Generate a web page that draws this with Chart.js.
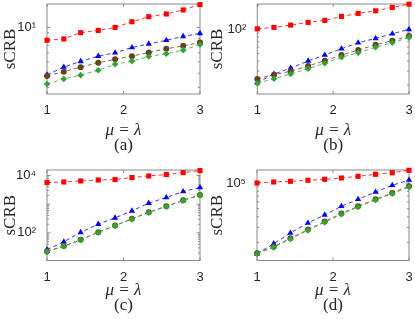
<!DOCTYPE html>
<html>
<head>
<meta charset="utf-8">
<script src="https://cdn.jsdelivr.net/npm/chart.js@4.4.1/dist/chart.umd.min.js"></script>
<style>
html, body { margin: 0; padding: 0; background: #fff; }
#wrap { position: relative; width: 415px; height: 319px; overflow: hidden; }
canvas { position: absolute; }
</style>
</head>
<body>
<div id="wrap">
<canvas id="pa" width="207" height="159" style="left:0px;top:0px"></canvas>
<canvas id="pb" width="208" height="159" style="left:207px;top:0px"></canvas>
<canvas id="pc" width="207" height="160" style="left:0px;top:159px"></canvas>
<canvas id="pd" width="208" height="160" style="left:207px;top:159px"></canvas>
</div>
<script>
const muLambda = [1, 1.22, 1.44, 1.67, 1.89, 2.11, 2.33, 2.56, 2.78, 3];
const xTicks = [1, 2, 3];

// (a)
const redA = [7.73, 7.94, 9.0, 9.42, 10, 11.2, 12.4, 13.1, 14.2, 15.8];
const blueA = [3.86, 4.52, 5.06, 5.62, 6.01, 6.68, 7.19, 7.73, 8.36, 8.87];
const brownA = [3.78, 4.12, 4.5, 4.93, 5.27, 5.62, 6.05, 6.52, 6.91, 7.38];
const greenA = [3.21, 3.56, 3.84, 4.24, 4.77, 5.09, 5.58, 5.9, 6.34, 7.1];
const yTicksA = [10];
// (b)
const redB = [101.7, 105.9, 113.2, 122.3, 129.6, 145.4, 158.5, 170.8, 188.4, 207];
const blueB = [21.5, 27.6, 32.8, 40.2, 47.7, 57.2, 68.0, 77.2, 88.1, 100];
const brownB = [23.9, 27.1, 29.9, 34.8, 40.5, 47.7, 55.1, 64.2, 72.1, 82.4];
const greenB = [21.1, 24.1, 27.6, 32.2, 37.6, 44.7, 51.0, 59.6, 68.0, 79.4];
const yTicksB = [100];
// (c)
const redC = [5662, 5943, 6442, 6982, 7211, 8453, 9616, 10740, 12620, 14790];
const blueC = [25.9, 49.1, 104, 202, 334, 585, 1084, 1710, 2761, 3802];
const brownC = [22.6, 34.8, 57.5, 106, 181, 308, 526, 851, 1372, 2098];
const greenC = [22.1, 34.0, 56.2, 104, 177, 301, 515, 832, 1343, 2053];
const yTicksC = [100, 10000];
// (d)
const redD = [100000, 102750, 104710, 107600, 110540, 114500, 119900, 126600, 132200, 141100];
const blueD = [14720, 19320, 25820, 33810, 42070, 53210, 64270, 78340, 93970, 108400];
const brownD = [14900, 17800, 22400, 28300, 35200, 43700, 53300, 64400, 76300, 91500];
const greenD = [14720, 17500, 21930, 27730, 34500, 42850, 52240, 63100, 74820, 89740];
const yTicksD = [100000];

const sup = "⁰¹²³⁴⁵⁶⁷⁸⁹";

//box + inward ticks like matlab
const frame = {
     id: "frame",
     beforeDatasetsDraw(chart) {
          const { ctx, chartArea: a, scales } = chart;
          const x = scales.x, y = scales.y;
          ctx.save();
          ctx.strokeStyle = "#8a8a8a";
          ctx.lineWidth = 1;
          ctx.strokeRect(a.left, a.top, a.width, a.height);
          ctx.beginPath();
          for (const v of xTicks) {
               const px = x.getPixelForValue(v);
               ctx.moveTo(px, a.bottom); ctx.lineTo(px, a.bottom - 3);
               ctx.moveTo(px, a.top); ctx.lineTo(px, a.top + 3);
          }
          const lo = Math.floor(Math.log10(y.min)), hi = Math.ceil(Math.log10(y.max));
          for (let k = lo; k <= hi; k++) {
               for (let m = 1; m < 10; m++) {
                    const v = m * Math.pow(10, k);
                    if (v < y.min || v > y.max) continue;
                    const py = y.getPixelForValue(v);
                    const len = m === 1 ? 3.5 : 2;
                    ctx.moveTo(a.left, py); ctx.lineTo(a.left + len, py);
                    ctx.moveTo(a.right, py); ctx.lineTo(a.right - len, py);
               }
          }
          ctx.stroke();
          ctx.restore();
     },
};

function makePanel(id, red, blue, brown, green, yMin, yMax, yTicks, caption, g) {
     const line = (data, color, style, r, order) => ({
          data: data.map((v, i) => ({ x: muLambda[i], y: v })),
          borderColor: color,
          backgroundColor: color,
          borderWidth: 0.8,
          borderDash: [4, 3],
          pointStyle: style,
          pointRadius: r,
          pointBorderWidth: 0,
          pointHoverRadius: r,
          fill: false,
          tension: 0,
          clip: false,
          order: order,
     });
     new Chart(id, {
          type: "line",
          data: {
               datasets: [
                    line(red, "#ff0000", "rect", 3.6, 4),
                    line(blue, "#0000ff", "triangle", 3.6, 3),
                    line(brown, "#654321", "circle", 3, 2),
                    line(green, "#33a333", "rectRot", 3.3, 1),
               ],
          },
          options: {
               responsive: false,
               animation: false,
               devicePixelRatio: 1,
               layout: { padding: { left: 0, top: g.top, right: g.right, bottom: 0 } },
               plugins: { legend: { display: false }, tooltip: { enabled: false } },
               scales: {
                    x: {
                         type: "linear",
                         min: 1,
                         max: 3,
                         weight: 0,
                         grid: { display: false },
                         border: { display: false },
                         afterBuildTicks: (s) => { s.ticks = xTicks.map((v) => ({ value: v })); },
                         ticks: { padding: 1, color: "#262626", font: { family: "Liberation Sans", size: 13 } },
                         title: {
                              display: true,
                              text: "μ = λ",
                              color: "#262626",
                              padding: { top: 0, bottom: 0 },
                              font: { family: "Liberation Serif", size: 17, style: "italic", lineHeight: 1.05 },
                         },
                         afterFit: (s) => { s.height = g.xh; s.paddingLeft = 0; s.paddingRight = 0; },
                    },
                    cap: {
                         type: "linear",
                         position: "bottom",
                         weight: 1,
                         grid: { display: false },
                         border: { display: false },
                         ticks: { display: false },
                         title: {
                              display: true,
                              text: caption,
                              color: "#262626",
                              padding: { top: 0, bottom: 5 },
                              font: { family: "Liberation Serif", size: 17, lineHeight: 1.05 },
                         },
                         afterFit: (s) => { s.height = g.ch; s.paddingLeft = 0; s.paddingRight = 0; },
                    },
                    y: {
                         type: "logarithmic",
                         min: yMin,
                         max: yMax,
                         grid: { display: false },
                         border: { display: false },
                         afterBuildTicks: (s) => { s.ticks = yTicks.map((v) => ({ value: v, major: true })); },
                         ticks: {
                              padding: 3,
                              color: "#262626",
                              font: { family: "Liberation Sans", size: 13 },
                              callback: (v) => "10" + sup[Math.round(Math.log10(v))],
                         },
                         title: {
                              display: true,
                              text: "sCRB",
                              color: "#262626",
                              padding: { top: 0, bottom: 0 },
                              font: { family: "Liberation Serif", size: 17 },
                         },
                         afterFit: (s) => { s.width = g.yw; s.paddingTop = 0; s.paddingBottom = 0; },
                    },
               },
          },
          plugins: [frame],
     });
}

makePanel("pa", redA, blueA, brownA, greenA, 2.63, 16, yTicksA, "(a)", { top: 4, right: 7, yw: 47, xh: 45, ch: 20 });
makePanel("pb", redB, blueB, brownB, greenB, 15.5, 208, yTicksB, "(b)", { top: 4, right: 6, yw: 50.3, xh: 45, ch: 20 });
makePanel("pc", redC, blueC, brownC, greenC, 10.9, 15520, yTicksC, "(c)", { top: 11, right: 7, yw: 47, xh: 39, ch: 19.5 });
makePanel("pd", redD, blueD, brownD, greenD, 12250, 142200, yTicksD, "(d)", { top: 11, right: 6, yw: 50, xh: 39, ch: 19.5 });
</script>
</body>
</html>
